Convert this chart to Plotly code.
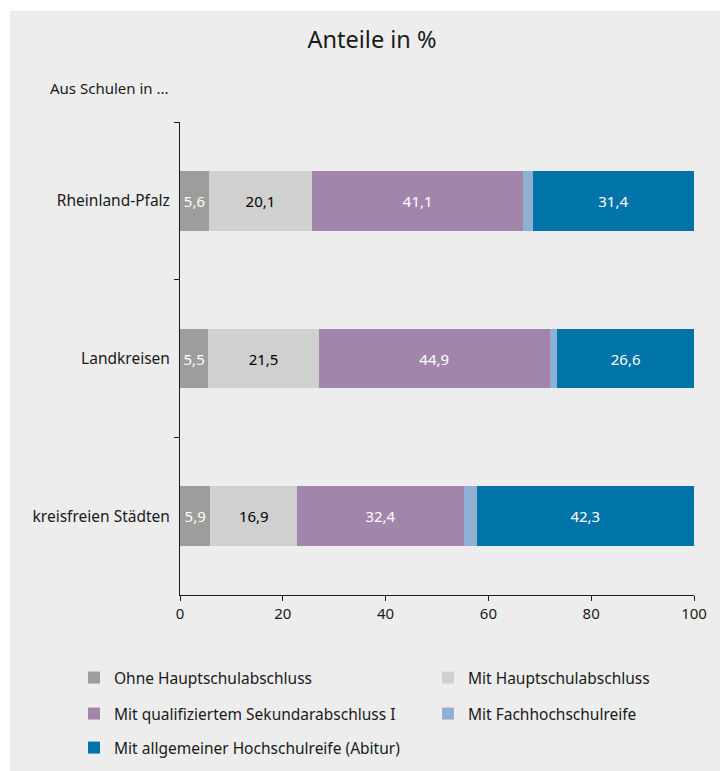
import plotly.graph_objects as go

categories = ["Rheinland-Pfalz", "Landkreisen", "kreisfreien Städten"]
series_names = [
    "Ohne Hauptschulabschluss",
    "Mit Hauptschulabschluss",
    "Mit qualifiziertem Sekundarabschluss I",
    "Mit Fachhochschulreife",
    "Mit allgemeiner Hochschulreife (Abitur)",
]
ohne = [5.6, 5.5, 5.9]
haupt = [20.1, 21.5, 16.9]
sek = [41.1, 44.9, 32.4]
fach = [1.8, 1.5, 2.5]
abitur = [31.4, 26.6, 42.3]
values = [ohne, haupt, sek, fach, abitur]
colors = ["#9d9d9c", "#d0d0d0", "#a285ab", "#8fb0d3", "#0073a8"]
text_colors = ["white", "black", "white", "white", "white"]
show_text = [True, True, True, False, True]
x_ticks = [0, 20, 40, 60, 80, 100]

FONT = "Noto Sans"
TXT = "#1a1a1a"

# figure-pixel geometry
W, H = 728, 771
PL, PR, PT, PB = 172, 686, 114, 587
PW, PH = PR - PL, PB - PT

# legend positions (figure px): left of legend box, row centre
leg_pos = [(66, 670), (420, 670), (66, 706), (420, 706), (66, 740)]
legend_ids = ["legend", "legend2", "legend3", "legend4", "legend5"]

fig = go.Figure()
for name, vals, col, tc, st, lg in zip(series_names, values, colors, text_colors, show_text, legend_ids):
    fig.add_trace(go.Bar(
        y=categories, x=vals, name=name, orientation="h",
        marker=dict(color=col, line=dict(width=0)),
        text=[f"{v:.1f}".replace(".", ",") for v in vals] if st else None,
        textposition="inside", insidetextanchor="middle",
        textfont=dict(color=tc, size=15, family=FONT),
        legend=lg,
        hoverinfo="skip",
    ))

fig.add_shape(type="rect", xref="paper", yref="paper",
              x0=(2 - PL) / PW, x1=(W + 20 - PL) / PW,
              y0=(PB - H - 20) / PH, y1=(PB - 3) / PH,
              fillcolor="#ededed", line=dict(width=0), layer="below")

legend_common = dict(orientation="h", xref="container", yref="container",
                     xanchor="left", yanchor="middle",
                     font=dict(size=15.5, family=FONT, color=TXT),
                     bgcolor="rgba(0,0,0,0)",
                     itemclick=False, itemdoubleclick=False)
legends = {}
for lg, (lx, ly) in zip(legend_ids, leg_pos):
    legends[lg] = dict(x=lx / W, y=1 - ly / H, **legend_common)

fig.update_layout(
    width=W, height=H,
    paper_bgcolor="white", plot_bgcolor="#ededed",
    margin=dict(l=PL, r=W - PR, t=PT, b=H - PB),
    barmode="stack", bargap=0.62,
    font=dict(family=FONT, size=15, color=TXT),
    title=dict(text="Anteile in %", x=364 / W, xanchor="center", y=1 - 32 / H, yanchor="middle",
               font=dict(size=23.5, family=FONT, color=TXT)),
    showlegend=True,
    **legends,
    xaxis=dict(range=[0, 100], tickvals=x_ticks, ticktext=[str(t) for t in x_ticks],
               showgrid=False, zeroline=False, showline=True, linecolor=TXT, linewidth=1,
               ticks="outside", ticklen=5, tickcolor=TXT,
               tickfont=dict(size=15, family=FONT, color=TXT), fixedrange=True),
    yaxis=dict(categoryorder="array", categoryarray=categories, autorange="reversed",
               showgrid=False, zeroline=False, showline=True, linecolor=TXT, linewidth=1,
               ticks="outside", ticklen=5, tickcolor=TXT, tickson="boundaries",
               ticklabelstandoff=6,
               tickfont=dict(size=15.5, family=FONT, color=TXT), fixedrange=True),
    annotations=[dict(text="Aus Schulen in ...", xref="paper", yref="paper",
                      x=(40 - PL) / PW, y=(PB - 80) / PH, xanchor="left", yanchor="middle",
                      showarrow=False, font=dict(size=15, family=FONT, color=TXT))],
)

fig.write_html("out.html")
